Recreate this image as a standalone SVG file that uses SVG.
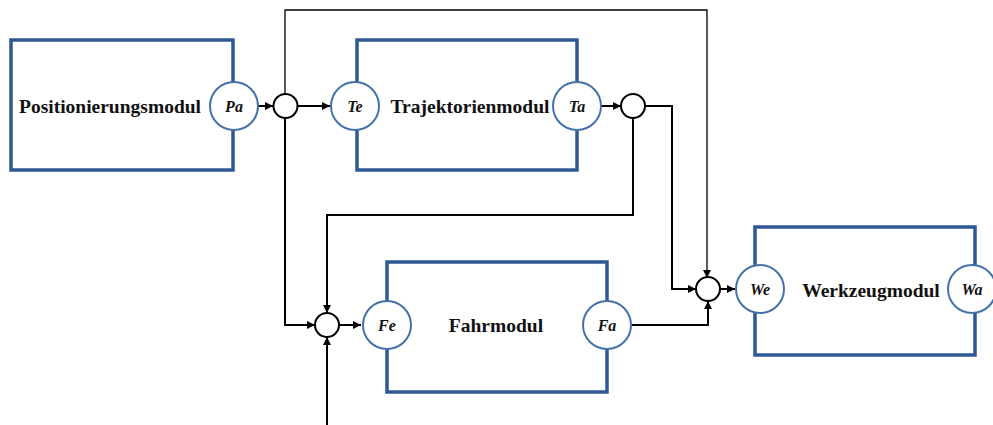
<svg xmlns="http://www.w3.org/2000/svg" width="993" height="425" viewBox="0 0 993 425">
<defs>
<style>
.box{fill:none;stroke:#2E5894;stroke-width:3.5}
.port{fill:#fff;stroke:#4472A8;stroke-width:2}
.sum{fill:#fff;stroke:#000;stroke-width:2}
.ln{fill:none;stroke:#000;stroke-width:2}
.thin{fill:none;stroke:#000;stroke-width:1.3}
text{font-family:'Liberation Serif','Times New Roman','DejaVu Serif',serif;font-weight:bold;fill:#111}
.title{font-size:19.5px}
.pl{font-style:italic;font-size:16px}
</style>
<marker id="ah" viewBox="0 0 10 10" refX="10" refY="5" markerWidth="8" markerHeight="8" markerUnits="userSpaceOnUse" orient="auto">
<path d="M0,0 L10,5 L0,10 z" fill="#000"/>
</marker>
</defs>
<rect width="993" height="425" fill="#fff"/>
<g id="connectors">
<path class="ln" d="M258,106 H273" marker-end="url(#ah)"/>
<path class="ln" d="M298,106 H330" marker-end="url(#ah)"/>
<path class="thin" d="M285,94 V10 H707 V278" marker-end="url(#ah)"/>
<path class="ln" d="M285,118 V325 H315" marker-end="url(#ah)"/>
<path class="ln" d="M601,106 H621" marker-end="url(#ah)"/>
<path class="ln" d="M645,106 H672 V289 H696" marker-end="url(#ah)"/>
<path class="ln" d="M633,118 V215 H327 V313" marker-end="url(#ah)"/>
<path class="ln" d="M327,425 V337" marker-end="url(#ah)"/>
<path class="ln" d="M339,325 H361" marker-end="url(#ah)"/>
<path class="ln" d="M632,325 H708 V301" marker-end="url(#ah)"/>
<path class="ln" d="M720,289 H735" marker-end="url(#ah)"/>
<circle class="sum" cx="285.5" cy="106" r="12"/>
<circle class="sum" cx="633" cy="106" r="12"/>
<circle class="sum" cx="327" cy="325" r="12"/>
<circle class="sum" cx="708" cy="289" r="12"/>
</g>
<g id="positionierungsmodul">
<rect class="box" x="11" y="40" width="222" height="130"/>
<circle class="port" cx="234" cy="106" r="24"/>
<text class="title" x="110" y="113" text-anchor="middle" font-family="'Liberation Serif', serif">Positionierungsmodul</text>
<text class="pl" x="234" y="112" text-anchor="middle" font-family="'Liberation Serif', serif">Pa</text>
</g>
<g id="trajektorienmodul">
<rect class="box" x="357" y="40" width="220" height="130"/>
<circle class="port" cx="355" cy="106" r="24"/>
<circle class="port" cx="577" cy="106" r="24"/>
<text class="title" x="470" y="113" text-anchor="middle" font-family="'Liberation Serif', serif">Trajektorienmodul</text>
<text class="pl" x="355" y="112" text-anchor="middle" font-family="'Liberation Serif', serif">Te</text>
<text class="pl" x="577" y="112" text-anchor="middle" font-family="'Liberation Serif', serif">Ta</text>
</g>
<g id="fahrmodul">
<rect class="box" x="387" y="262" width="220" height="130"/>
<circle class="port" cx="387" cy="325" r="24"/>
<circle class="port" cx="607" cy="325" r="24"/>
<text class="title" x="496" y="332" text-anchor="middle" font-family="'Liberation Serif', serif">Fahrmodul</text>
<text class="pl" x="387" y="331" text-anchor="middle" font-family="'Liberation Serif', serif">Fe</text>
<text class="pl" x="607" y="331" text-anchor="middle" font-family="'Liberation Serif', serif">Fa</text>
</g>
<g id="werkzeugmodul">
<rect class="box" x="755" y="227" width="220" height="128"/>
<circle class="port" cx="760" cy="289" r="24"/>
<circle class="port" cx="972" cy="289" r="24"/>
<text class="title" x="871" y="297" text-anchor="middle" font-family="'Liberation Serif', serif">Werkzeugmodul</text>
<text class="pl" x="760" y="295" text-anchor="middle" font-family="'Liberation Serif', serif">We</text>
<text class="pl" x="972" y="295" text-anchor="middle" font-family="'Liberation Serif', serif">Wa</text>
</g>
</svg>
